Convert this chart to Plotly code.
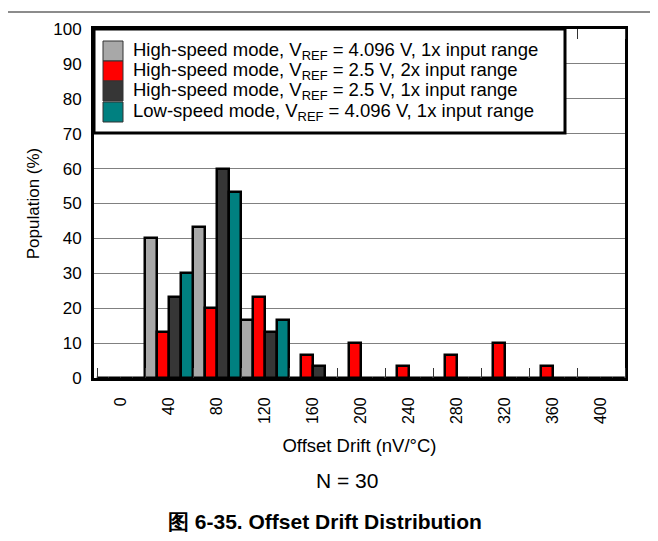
import plotly.graph_objects as go

# ================= DATA =================
DRIFT_BINS = [0, 40, 80, 120, 160, 200, 240, 280, 320, 360, 400]
TICK_LABELS = [str(v) for v in DRIFT_BINS]

SERIES_NAMES = [
    "High-speed mode, V<sub>REF</sub> = 4.096 V, 1x input range",
    "High-speed mode, V<sub>REF</sub> = 2.5 V, 2x input range",
    "High-speed mode, V<sub>REF</sub> = 2.5 V, 1x input range",
    "Low-speed mode, V<sub>REF</sub> = 4.096 V, 1x input range",
]
hs_4096_1x = [0, 40.0, 43.3, 16.7, 0, 0, 0, 0, 0, 0, 0]
hs_25_2x = [0, 13.3, 20.0, 23.3, 6.7, 10.0, 3.3, 6.7, 10.0, 3.3, 0]
hs_25_1x = [0, 23.3, 60.0, 13.3, 3.3, 0, 0, 0, 0, 0, 0]
ls_4096_1x = [0, 30.0, 53.3, 16.7, 0, 0, 0, 0, 0, 0, 0]
SERIES_VALUES = [hs_4096_1x, hs_25_2x, hs_25_1x, ls_4096_1x]
COLORS = ["#A8A8A8", "#FF0000", "#363636", "#008080"]
# ========================================

FONT = "Arial, Liberation Sans, sans-serif"
OFF = 8                          # page body margin
W, H = 658 - OFF, 541 - OFF
L, R, T, B = 94, 625, 29, 378    # plot area in page pixels


def px_x(px):
    return (px - L) / (R - L)


def px_y(py):
    return (B - py) / (B - T)


fig = go.Figure()
for name, vals, col in zip(SERIES_NAMES, SERIES_VALUES, COLORS):
    fig.add_trace(go.Bar(
        x=DRIFT_BINS, y=vals, name=name,
        marker=dict(color=col, line=dict(color="black", width=2.5)),
        showlegend=False,
    ))

shapes = []
annotations = []

# page frame lines
shapes.append(dict(type="line", xref="paper", yref="paper",
                   x0=px_x(OFF), x1=px_x(656), y0=px_y(12), y1=px_y(12),
                   line=dict(color="#666666", width=1.5)))
shapes.append(dict(type="line", xref="paper", yref="paper",
                   x0=px_x(656), x1=px_x(656), y0=px_y(12), y1=px_y(541),
                   line=dict(color="#666666", width=1.5)))

# custom legend box
shapes.append(dict(type="rect", xref="paper", yref="paper", layer="above",
                   x0=px_x(L), x1=px_x(565), y0=px_y(133), y1=px_y(T),
                   fillcolor="white", line=dict(color="black", width=3)))
row_tops = [41, 61, 81, 102]
for name, col, top in zip(SERIES_NAMES, COLORS, row_tops):
    shapes.append(dict(type="rect", xref="paper", yref="paper", layer="above",
                       x0=px_x(103), x1=px_x(123), y0=px_y(top + 20), y1=px_y(top),
                       fillcolor=col, line=dict(color="#333333", width=1)))
    annotations.append(dict(xref="paper", yref="paper", x=px_x(131), y=px_y(top + 10),
                            xanchor="left", yanchor="middle", showarrow=False,
                            text=name, font=dict(size=18.5, color="black", family=FONT)))

annotations.append(dict(xref="paper", yref="paper", x=px_x(347), y=px_y(480),
                        xanchor="center", yanchor="middle", showarrow=False,
                        text="N = 30", font=dict(size=21, color="black", family=FONT)))
annotations.append(dict(xref="paper", yref="paper", x=px_x(325), y=px_y(521),
                        xanchor="center", yanchor="middle", showarrow=False,
                        text="<b>图 6-35. Offset Drift Distribution</b>",
                        font=dict(size=21, color="black", family=FONT)))

fig.update_layout(
    width=W, height=H,
    margin=dict(l=L - OFF, r=W - (R - OFF), t=T - OFF, b=H - (B - OFF), pad=0),
    paper_bgcolor="white", plot_bgcolor="white",
    font=dict(family=FONT, color="black"),
    barmode="group", bargap=0, bargroupgap=0,
    shapes=shapes, annotations=annotations,
    showlegend=False,
)
fig.update_xaxes(
    range=[-22.5, 420], tickmode="array", tickvals=DRIFT_BINS, ticktext=TICK_LABELS,
    tickangle=-90, tickfont=dict(size=16), ticks="", ticklabelstandoff=10,
    showgrid=False, zeroline=False,
    showline=True, linecolor="black", linewidth=3, mirror="allticks",
    minor=dict(tick0=20, dtick=40, ticks="inside", ticklen=10, tickcolor="#333333", tickwidth=1),
    title=dict(text="Offset Drift (nV/°C)", font=dict(size=18.5), standoff=16),
)
fig.update_yaxes(
    range=[0, 100], dtick=10, tickfont=dict(size=17), ticks="", ticklabelstandoff=6,
    showgrid=True, gridcolor="#808080", gridwidth=1, zeroline=False,
    showline=True, linecolor="black", linewidth=3, mirror=True,
    title=dict(text="Population (%)", font=dict(size=17), standoff=10),
)

fig.write_html("out.html")
